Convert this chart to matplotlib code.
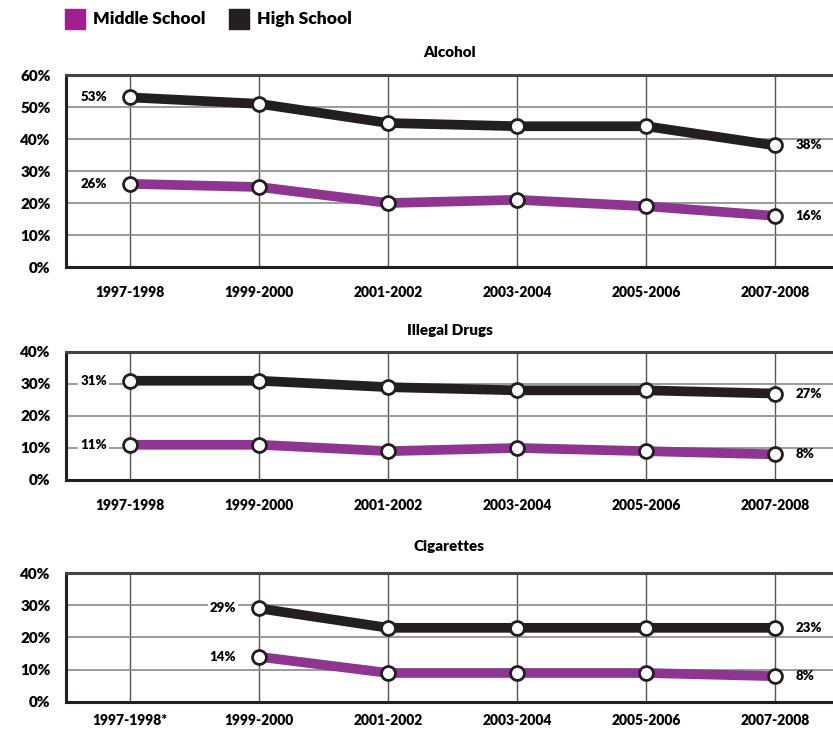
import matplotlib.pyplot as plt
import numpy as np

plt.rcParams['font.family'] = ['Lato', 'DejaVu Sans']
plt.rcParams['font.weight'] = 'heavy'

years = ['1997-1998', '1999-2000', '2001-2002', '2003-2004', '2005-2006', '2007-2008']
years_cig = ['1997-1998*', '1999-2000', '2001-2002', '2003-2004', '2005-2006', '2007-2008']

alcohol_hs = [53, 51, 45, 44, 44, 38]
alcohol_ms = [26, 25, 20, 21, 19, 16]
drugs_hs = [31, 31, 29, 28, 28, 27]
drugs_ms = [11, 11, 9, 10, 9, 8]
cig_hs = [np.nan, 29, 23, 23, 23, 23]
cig_ms = [np.nan, 14, 9, 9, 9, 8]

purple = '#8e3592'
black = '#231f20'

fig = plt.figure(figsize=(8.33, 7.32), dpi=100)

# title, labels, ms, hs, ymax, axes rect, title pad, xlabel pad
panels = [
    ('Alcohol', years, alcohol_ms, alcohol_hs, 60, [0.0792, 0.6352, 0.9208, 0.2623], 13, 14),
    ('Illegal Drugs', years, drugs_ms, drugs_hs, 40, [0.0792, 0.3443, 0.9208, 0.1749], 12, 14),
    ('Cigarettes', years_cig, cig_ms, cig_hs, 40, [0.0792, 0.0410, 0.9208, 0.1762], 16, 9),
]

for title, labels, ms, hs, ymax, rect, tpad, xpad in panels:
    ax = fig.add_axes(rect)
    x = np.arange(len(labels))
    for vals, col in [(hs, black), (ms, purple)]:
        ax.plot(x, vals, color=col, lw=7, solid_joinstyle='miter', zorder=3)
        ax.plot(x, vals, 'o', ms=10, mfc='white', mec=black, mew=2, zorder=4)
        first = int(np.argmax(~np.isnan(np.array(vals, dtype=float))))
        ax.text(first - 0.18, vals[first], f'{vals[first]}%', ha='right', va='center',
                fontsize=9.5, zorder=5,
                bbox=dict(facecolor='white', edgecolor='none', pad=1.5))
        ax.text(len(labels) - 1 + 0.16, vals[-1], f'{vals[-1]}%', ha='left', va='center',
                fontsize=9.5, zorder=5)
    ax.set_xlim(-0.5, 5.45)
    ax.set_ylim(0, ymax)
    ax.set_yticks(range(0, ymax + 1, 10))
    ax.set_yticklabels([f'{v}%' for v in range(0, ymax + 1, 10)], fontsize=11)
    ax.set_xticks(x)
    ax.set_xticklabels(labels, fontsize=10)
    ax.tick_params(length=0)
    ax.tick_params(axis='y', pad=11)
    ax.tick_params(axis='x', pad=xpad)
    ax.yaxis.grid(True, color='#8a8a8a', lw=1.2)
    ax.xaxis.grid(True, color='#555555', lw=1.0)
    ax.set_axisbelow(True)
    for s in ['left', 'bottom', 'top']:
        ax.spines[s].set_linewidth(2.2)
        ax.spines[s].set_color('#231f20')
    ax.spines['top'].set_color('#444444')
    ax.spines['right'].set_visible(False)
    ax.set_title(title, fontsize=11, fontweight='heavy', pad=tpad)

# legend
fig.patches.append(plt.Rectangle((65 / 833, 1 - 29 / 732), 20 / 833, 20 / 732,
                                 transform=fig.transFigure, color='#a0208e'))
fig.text(93 / 833, 1 - 19 / 732, 'Middle School', fontsize=12.5, va='center', ha='left')
fig.patches.append(plt.Rectangle((229 / 833, 1 - 29 / 732), 20 / 833, 20 / 732,
                                 transform=fig.transFigure, color=black))
fig.text(257 / 833, 1 - 19 / 732, 'High School', fontsize=12.5, va='center', ha='left')

plt.savefig('out.png', dpi=100)
